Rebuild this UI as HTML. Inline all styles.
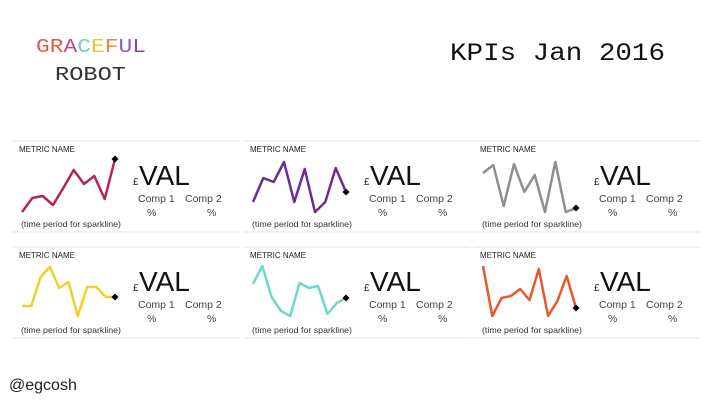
<!DOCTYPE html>
<html><head><meta charset="utf-8"><style>
html,body{margin:0;padding:0;background:#fff;width:720px;height:405px;overflow:hidden}
svg{display:block}
.s{font-family:"Liberation Sans",sans-serif}
.m{font-family:"Liberation Mono",monospace}
</style></head><body>
<svg width="720" height="405" xmlns="http://www.w3.org/2000/svg" id="c">
<g>
<text class="m" x="36" y="52" font-size="19" textLength="110" lengthAdjust="spacingAndGlyphs"><tspan fill="#e0574f">G</tspan><tspan fill="#e0574f">R</tspan><tspan fill="#c44b8a">A</tspan><tspan fill="#6fd0c8">C</tspan><tspan fill="#f0c43a">E</tspan><tspan fill="#e08a3a">F</tspan><tspan fill="#9b59b6">U</tspan><tspan fill="#7b4bb0">L</tspan></text>
<text class="m" x="55" y="80" font-size="19" fill="#333" textLength="71" lengthAdjust="spacingAndGlyphs">ROBOT</text>
</g>
<text class="m" x="450" y="60" font-size="25" fill="#111" textLength="215" lengthAdjust="spacingAndGlyphs">KPIs Jan 2016</text>
<text class="s" x="9" y="390" font-size="16" fill="#222">@egcosh</text>
<g id="cards"></g>
</svg>
<script>
// sparkline values (units above baseline), one array per metric
const spark1 = [0, 14, 16, 7, 24, 42, 28, 36, 13, 53];
const spark2 = [10, 34, 30, 50, 10, 43, 0, 10, 44, 20];
const spark3 = [39, 47, 6, 48, 20, 37, 0, 50, 0, 4];
const spark4 = [10, 10, 39, 49, 28, 34, 0, 29, 29, 19, 19];
const spark5 = [32, 50, 19, 5, 0, 33, 28, 30, 2, 13, 18];
const spark6 = [50, 0, 18, 20, 27, 16, 47, 0, 15, 40, 8];
const colors = ["#b5245a", "#6a2c9a", "#8f8f8f", "#f0d02a", "#6fd8c6", "#e8582a"];
const series = [spark1, spark2, spark3, spark4, spark5, spark6];
const NS = "http://www.w3.org/2000/svg";
const root = document.getElementById("cards");
function mk(tag, attrs, parent, txt){
  const e = document.createElementNS(NS, tag);
  for (const k in attrs) e.setAttribute(k, attrs[k]);
  if (txt !== undefined) e.textContent = txt;
  parent.appendChild(e);
  return e;
}
const colX = [12, 243, 473];
const rowY = [141, 247];
series.forEach((vals, i) => {
  const cx = colX[i % 3], cy = rowY[Math.floor(i / 3)];
  const g = mk("g", {}, root);
  
  
  const l1 = mk("line", {x1: cx, x2: cx + 228, y1: cy, y2: cy, stroke: "#e6e6e6", "stroke-width": 1}, g);
  
  
  const l2 = mk("line", {x1: cx, x2: cx + 228, y1: cy + 91, y2: cy + 91, stroke: "#e6e6e6", "stroke-width": 1}, g);
  
  
  const t1 = mk("text", {x: cx + 7, y: cy + 11, "font-size": 8, fill: "#222", class: "s"}, g, "METRIC NAME");
  
  
  const x0 = cx + 10, w = 93, base = cy + (i < 3 ? 71 : 69), ky = 1;
  const sx = k => x0 + k * w / (vals.length - 1);
  const sy = v => base - v * ky;
  const pts = vals.map((v, k) => sx(k).toFixed(1) + "," + sy(v).toFixed(1)).join(" ");
  const pl = mk("polyline", {points: pts, fill: "none", stroke: colors[i], "stroke-width": 2.5, "stroke-linejoin": "round"}, g);
  
  
  const last = vals.length - 1;
  const dot = mk("rect", {x: sx(last) - 2.5, y: sy(vals[last]) - 2.5, width: 5, height: 5, fill: "#000", transform: `rotate(45 ${sx(last)} ${sy(vals[last])})`}, g);
  
  
  const vy = cy + 44;
  const p = mk("text", {x: cx + 121, y: vy, "font-size": 10, fill: "#222", class: "s"}, g, "£");
  
  
  const v = mk("text", {x: cx + 127, y: vy, "font-size": 28, fill: "#111", class: "s"}, g, "VAL");
  
  
  const c1 = mk("text", {x: cx + 126, y: cy + 61, "font-size": 10.5, fill: "#444", class: "s"}, g, "Comp 1");
  
  
  const c2 = mk("text", {x: cx + 173, y: cy + 61, "font-size": 10.5, fill: "#444", class: "s"}, g, "Comp 2");
  
  
  const p1 = mk("text", {x: cx + 135, y: cy + 75, "font-size": 10.5, fill: "#444", class: "s"}, g, "%");
  
  
  const p2 = mk("text", {x: cx + 195, y: cy + 75, "font-size": 10.5, fill: "#444", class: "s"}, g, "%");
  
  
  const tp = mk("text", {x: cx + 9, y: cy + 86, "font-size": 8.5, fill: "#333", class: "s", textLength: 100, lengthAdjust: "spacingAndGlyphs"}, g, "(time period for sparkline)");
  
  
});
</script>
</body></html>
